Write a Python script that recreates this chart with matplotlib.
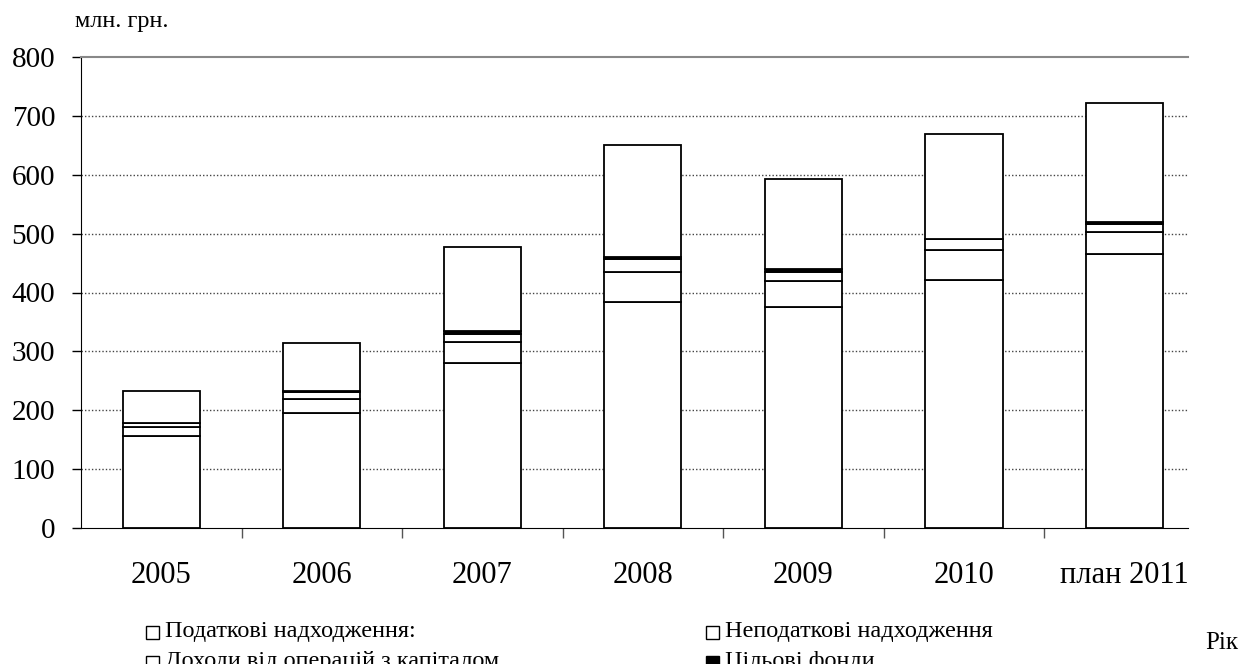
import matplotlib
matplotlib.use("Agg")
import matplotlib.pyplot as plt
from matplotlib.patches import Rectangle
import numpy as np

plt.rcParams['font.family'] = ['Liberation Serif', 'DejaVu Serif']

categories = ["2005", "2006", "2007", "2008", "2009", "2010", "план 2011"]
tax = [156, 196, 281, 384, 375, 422, 466]
nontax = [15.5, 22.5, 35, 51, 44, 50, 37]
capital = [6, 12, 14, 22, 16, 19, 13]
target = [1, 1.5, 4, 4, 5, 0, 4]
transfers = [53.5, 83, 144, 190, 153, 178, 202]

series_names = ["Податкові надходження:", "Неподаткові надходження",
                "Доходи від операцій з капіталом", "Цільові фонди",
                "Офіційні трансферти"]
series = [tax, nontax, capital, target, transfers]
fills = ["white", "white", "white", "black", "white"]

yticks = [0, 100, 200, 300, 400, 500, 600, 700, 800]

fig = plt.figure(figsize=(12.56, 6.64), dpi=100)
ax = fig.add_axes([81 / 1256, 1 - 528 / 664, (1188 - 81) / 1256, (528 - 57) / 664])

x = np.arange(len(categories))
bottom = np.zeros(len(categories))
for vals, fc in zip(series, fills):
    ax.bar(x, vals, width=0.48, bottom=bottom, color=fc, edgecolor="black",
           linewidth=1.3, zorder=3)
    bottom += np.array(vals)

ax.set_ylim(0, 800)
ax.set_xlim(-0.5, 6.395)
ax.set_yticks(yticks)
ax.set_yticklabels([str(v) for v in yticks], fontsize=21)
ax.tick_params(axis='y', direction='out', length=6.5, width=1, pad=12)

ax.set_xticks(x)
ax.set_xticklabels(categories, fontsize=22)
ax.set_xticks(np.arange(len(categories) - 1) + 0.5, minor=True)
ax.tick_params(axis='x', which='major', length=0, pad=24)
ax.tick_params(axis='x', which='minor', length=7, width=1, color='#555555')

for t in yticks[1:-1]:
    ax.axhline(t, color="#444444", linestyle=(0, (1, 1.5)), linewidth=1.0, zorder=1)

ax.spines['right'].set_visible(False)
ax.spines['top'].set_color('#888888')
ax.spines['top'].set_linewidth(1.5)
ax.spines['left'].set_color('black')
ax.spines['bottom'].set_color('black')

fig.text(75 / 1256, 1 - 22 / 664, "млн. грн.", fontsize=17.5, va='center', ha='left')
fig.text(1205 / 1256, 1 - 643 / 664, "Рік", fontsize=18, va='center', ha='left')

# legend (manual layout, last rows cut off as in the reference)
pos = [(146, 632), (706, 632), (146, 662), (706, 662), (146, 692)]
for (px, py), name, fc in zip(pos, series_names, fills):
    fig.patches.append(Rectangle((px / 1256, 1 - (py + 7) / 664), 13 / 1256, 13 / 664,
                                 transform=fig.transFigure, facecolor=fc,
                                 edgecolor='black', linewidth=1.0))
    fig.text((px + 19) / 1256, 1 - py / 664, name, fontsize=17.5, va='center', ha='left')

fig.savefig("out.png", dpi=100)
